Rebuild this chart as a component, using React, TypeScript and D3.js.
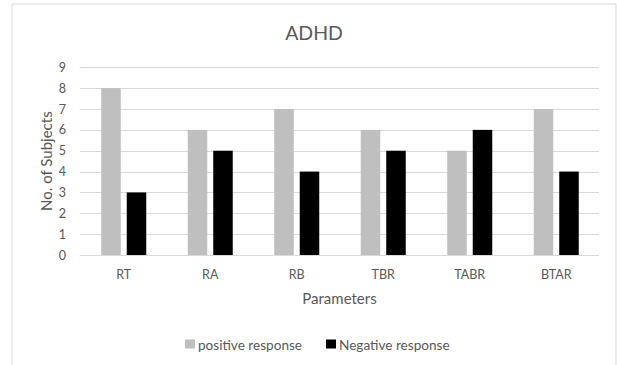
import React from "react";
import * as d3 from "d3";

const categories = ["RT", "RA", "RB", "TBR", "TABR", "BTAR"];
const seriesNames = ["positive response", "Negative response"];
const positiveValues = [8, 6, 7, 6, 5, 7];
const negativeValues = [3, 5, 4, 5, 6, 4];
const yTicks = [0, 1, 2, 3, 4, 5, 6, 7, 8, 9];
const seriesColors = ["#bfbfbf", "#000000"];

const W = 617;
const H = 365;
const FONT = "Lato, 'Open Sans', sans-serif";
const TEXT = "#595959";

export default function App() {
  const left = 80, right = 599, top = 67.3, bottom = 255;
  const x0 = d3.scaleBand<string>().domain(categories).range([left, right]).paddingInner(0).paddingOuter(0);
  const x1 = d3.scaleBand<string>().domain(seriesNames).range([0, 45]).paddingInner(0.235).paddingOuter(0);
  const y = d3.scaleLinear().domain([0, 9]).range([bottom, top]);
  const values = [positiveValues, negativeValues];
  const groupOffset = x0.bandwidth() / 2 - 22.5 + 0.5;

  return (
    <svg width={W} height={H} style={{ position: "absolute", left: 0, top: 0, background: "#fff" }} fontFamily={FONT}>
      <rect x={12} y={4} width={604} height={H + 10} fill="#fff" stroke="#d9d9d9" strokeWidth={1} />
      <text x={314} y={40} textAnchor="middle" fontSize={19.5} fill={TEXT}>ADHD</text>
      {yTicks.map((t) => (
        <g key={t}>
          <line x1={left} x2={right} y1={Math.round(y(t)) + 0.5} y2={Math.round(y(t)) + 0.5} stroke="#d9d9d9" strokeWidth={1} />
          <text x={66} y={y(t) + 4.5} textAnchor="end" fontSize={12.5} fill={TEXT}>{t}</text>
        </g>
      ))}
      {categories.map((c, i) => (
        <g key={c}>
          {seriesNames.map((s, j) => (
            <rect
              key={s}
              x={(x0(c) as number) + groupOffset + (x1(s) as number)}
              y={y(values[j][i])}
              width={x1.bandwidth()}
              height={bottom - y(values[j][i])}
              fill={seriesColors[j]}
            />
          ))}
          <text x={(x0(c) as number) + x0.bandwidth() / 2 + 0.5} y={279} textAnchor="middle" fontSize={12.5} fill={TEXT}>{c}</text>
        </g>
      ))}
      <text x={(left + right) / 2} y={304} textAnchor="middle" fontSize={15} fill={TEXT}>Parameters</text>
      <text transform={`translate(52,${(top + bottom) / 2}) rotate(-90)`} textAnchor="middle" fontSize={15} fill={TEXT}>No. of Subjects</text>
      {seriesNames.map((s, j) => {
        const lx = j === 0 ? 185 : 326;
        return (
          <g key={s}>
            <rect x={lx} y={339.5} width={10} height={9} fill={seriesColors[j]} />
            <text x={lx + 13} y={349.5} fontSize={13.6} fill={TEXT}>{s}</text>
          </g>
        );
      })}
    </svg>
  );
}
